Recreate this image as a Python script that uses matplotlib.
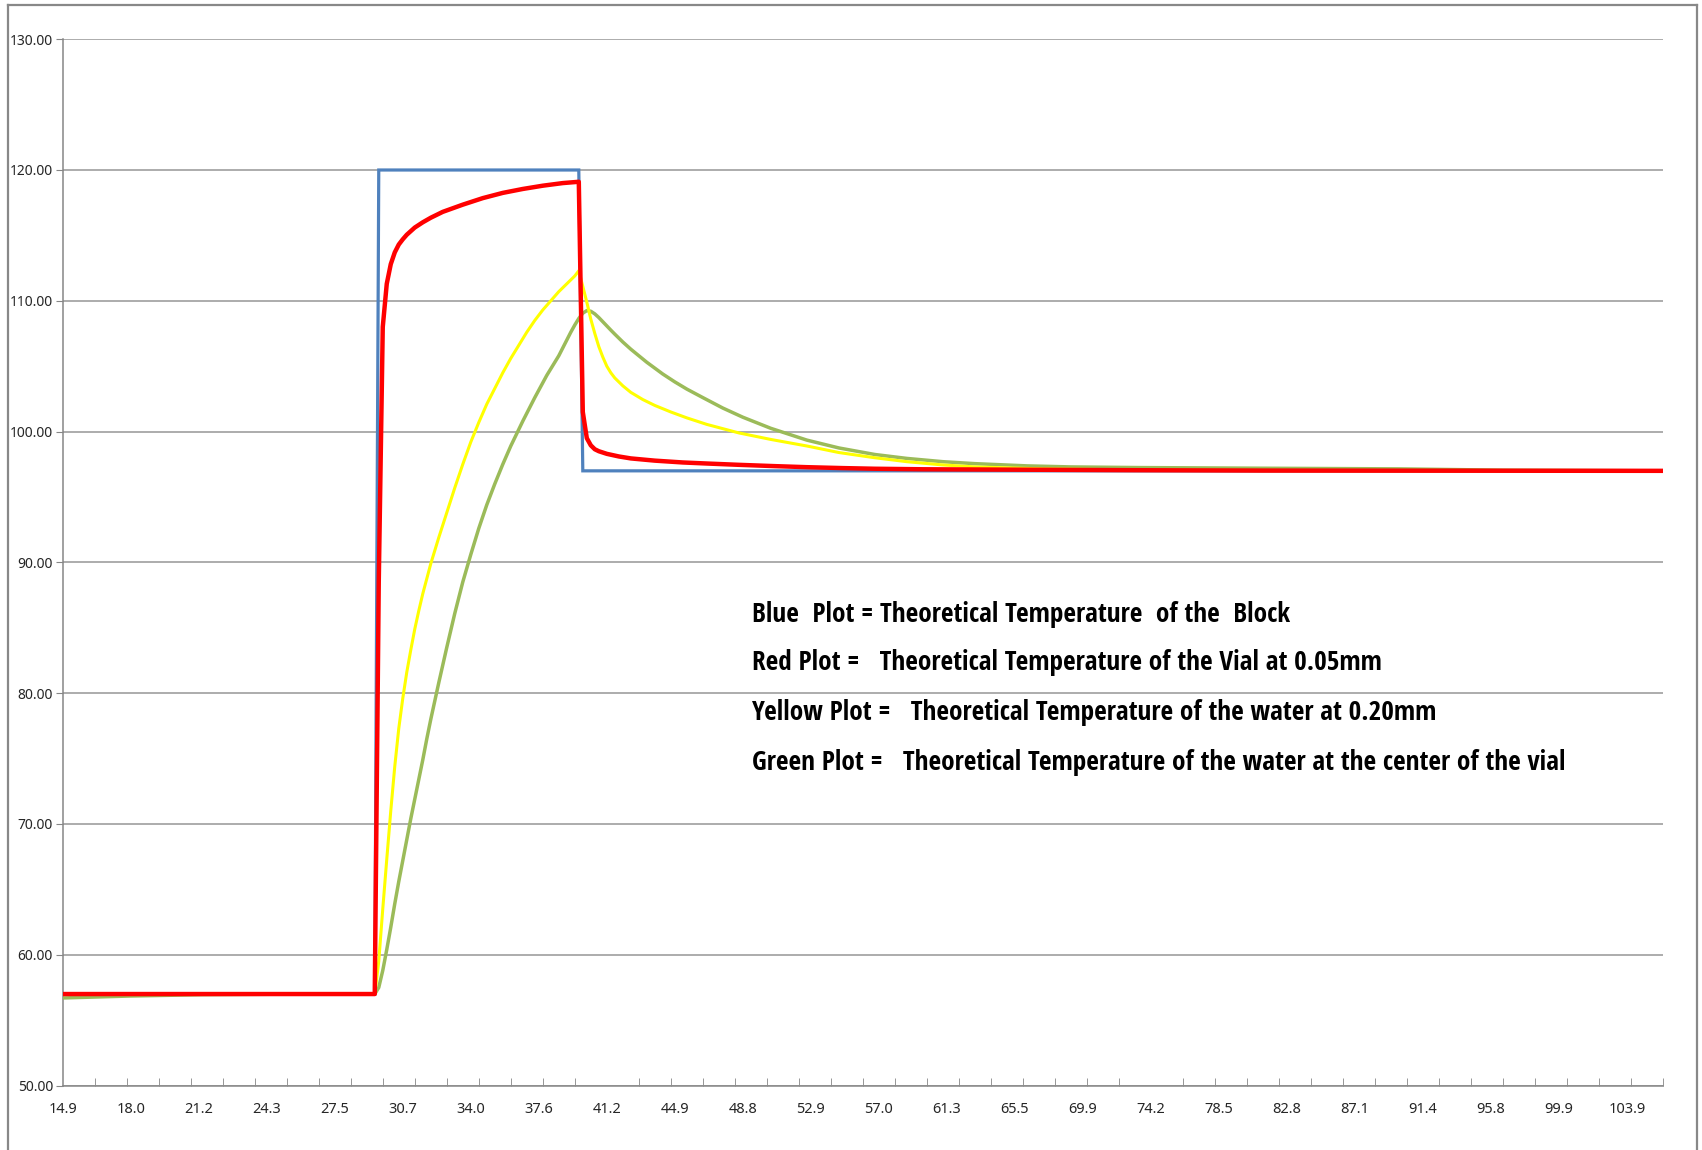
import matplotlib
matplotlib.use("Agg")
import matplotlib.pyplot as plt
from matplotlib.lines import Line2D
from matplotlib.ticker import FixedLocator, FuncFormatter

# time labels shown along the category axis (one every 17 samples)
x_labels = ["14.9", "18.0", "21.2", "24.3", "27.5", "30.7", "34.0", "37.6",
            "41.2", "44.9", "48.8", "52.9", "57.0", "61.3", "65.5", "69.9",
            "74.2", "78.5", "82.8", "87.1", "91.4", "95.8", "99.9", "103.9"]
n_samples = 401
label_every = 17
tick_every = 8

# block temperature (step profile)
block_idx = [0, 78, 79, 129, 130, 400]
block_temp = [57.0, 57.0, 120.0, 120.0, 97.0, 97.0]

# vial wall at 0.05mm
vial_idx = [0, 78, 79, 80, 81, 82, 83, 84, 85, 86, 88, 90, 92, 95, 100, 105,
            110, 115, 120, 125, 129, 130, 131, 132, 133, 134, 136, 139, 142,
            148, 155, 161, 169, 178, 186, 195, 203, 215, 230, 245, 267, 300, 400]
vial_temp = [57.0, 57.0, 88.5, 108.0, 111.3, 112.8, 113.7, 114.3, 114.7,
             115.05, 115.6, 116.0, 116.35, 116.8, 117.35, 117.85, 118.25,
             118.55, 118.8, 119.0, 119.1, 101.5, 99.5, 98.95, 98.65, 98.5,
             98.3, 98.1, 97.95, 97.78, 97.64, 97.56, 97.46, 97.36, 97.28,
             97.21, 97.16, 97.12, 97.1, 97.08, 97.05, 97.02, 97.0]

# water at 0.20mm
water_idx = [0, 78, 79, 80, 81, 82, 83, 84, 85, 86, 87, 88, 89, 90, 92, 94,
             96, 98, 100, 102, 104, 106, 108, 110, 112, 114, 116, 118, 120,
             122, 124, 126, 128, 129, 130, 131, 132, 133, 134, 135, 136, 137,
             138, 140, 142, 145, 148, 152, 156, 161, 169, 177, 186, 194, 203,
             211, 220, 228, 245, 265, 300, 400]
water_temp = [57.0, 57.0, 59.5, 63.5, 67.3, 71.0, 74.4, 77.3, 79.6, 81.6,
              83.3, 84.9, 86.3, 87.6, 89.9, 91.9, 93.8, 95.7, 97.5, 99.2,
              100.7, 102.1, 103.3, 104.5, 105.6, 106.6, 107.6, 108.5, 109.3,
              110.0, 110.7, 111.3, 111.9, 112.3, 111.1, 109.9, 108.6, 107.5,
              106.5, 105.7, 105.0, 104.5, 104.1, 103.5, 103.0, 102.45, 102.0,
              101.5, 101.05, 100.55, 99.9, 99.4, 98.9, 98.4, 98.0, 97.7,
              97.45, 97.3, 97.15, 97.08, 97.02, 97.0]

# water at the center of the vial
center_idx = [0, 17, 35, 60, 78, 79, 80, 81, 82, 83, 84, 85, 86, 87, 88, 89,
              90, 91, 92, 93, 94, 96, 98, 100, 102, 104, 106, 108, 110, 112,
              115, 118, 121, 124, 126, 127, 128, 129, 130, 131, 132, 133, 134,
              135, 136, 137, 138, 140, 142, 144, 146, 148, 150, 153, 156, 160,
              165, 170, 177, 186, 194, 203, 211, 220, 228, 241, 252, 269, 300,
              334, 360, 400]
center_temp = [56.7, 56.85, 56.95, 57.0, 57.0, 57.5, 58.8, 60.4, 62.1, 63.9,
               65.6, 67.2, 68.8, 70.4, 71.9, 73.4, 74.9, 76.5, 78.0, 79.4,
               80.8, 83.5, 86.1, 88.5, 90.6, 92.6, 94.4, 96.0, 97.5, 98.9,
               100.8, 102.6, 104.3, 105.8, 107.0, 107.6, 108.15, 108.65,
               109.05, 109.25, 109.2, 109.0, 108.72, 108.4, 108.08, 107.76,
               107.45, 106.85, 106.3, 105.8, 105.3, 104.85, 104.4, 103.8,
               103.25, 102.6, 101.8, 101.1, 100.25, 99.35, 98.75, 98.25,
               97.95, 97.7, 97.55, 97.38, 97.3, 97.25, 97.2, 97.15, 97.05, 97.0]

notes = [
    "Blue  Plot = Theoretical Temperature  of the  Block",
    "Red Plot =   Theoretical Temperature of the Vial at 0.05mm",
    "Yellow Plot =   Theoretical Temperature of the water at 0.20mm",
    "Green Plot =   Theoretical Temperature of the water at the center of the vial",
]
note_rows = [615, 662, 713, 763]

W, H = 1702, 1150
narrow_bold = ["Open Sans Condensed", "Roboto Condensed", "Liberation Sans Narrow",
               "Noto Sans", "DejaVu Sans"]
narrow_tick = ["Open Sans Condensed Light", "Noto Sans", "DejaVu Sans"]

fig = plt.figure(figsize=(W / 100, H / 100), dpi=100)
left, right, top, bottom = 62.7, 1663.0, 39.2, 1085.6
ax = fig.add_axes([left / W, 1 - bottom / H, (right - left) / W, (bottom - top) / H])

ax.plot(block_idx, block_temp, color="#4F81BD", lw=2.3, solid_joinstyle="miter", zorder=3)
ax.plot(center_idx, center_temp, color="#9BBB59", lw=2.5, zorder=4)
ax.plot(water_idx, water_temp, color="#FFFF00", lw=2.2, zorder=5)
ax.plot(vial_idx, vial_temp, color="#FF0000", lw=3.2, zorder=6)

ax.set_xlim(0, n_samples - 1)
ax.set_ylim(50, 130)

# y axis
ax.set_yticks(range(50, 131, 10))
ax.yaxis.set_major_formatter(FuncFormatter(lambda v, p: f"{v:.2f}"))
ax.yaxis.grid(True, color="#A6A6A6", lw=1.3)
ax.set_axisbelow(True)
ax.tick_params(axis="y", direction="out", length=5, color="#868686",
               labelsize=10, pad=2, labelcolor="#262626")

# x axis: labels and tick marks on different intervals
ax.xaxis.set_major_locator(FixedLocator(range(0, label_every * len(x_labels), label_every)))
ax.set_xticklabels(x_labels)
ax.xaxis.set_minor_locator(FixedLocator(range(0, n_samples, tick_every)))
ax.tick_params(axis="x", which="major", length=0, pad=12, labelsize=10.5, labelcolor="#262626")
ax.tick_params(axis="x", which="minor", direction="in", length=6, color="#868686")

for lbl in ax.get_xticklabels() + ax.get_yticklabels():
    lbl.set_family(narrow_tick)

for s in ["top", "right"]:
    ax.spines[s].set_visible(False)
for s in ["left", "bottom"]:
    ax.spines[s].set_color("#868686")
    ax.spines[s].set_linewidth(1.1)

# annotation block, sized so the longest line spans ~812 px
texts = []
for line, y in zip(notes, note_rows):
    t = fig.text(752 / W, 1 - y / H, line, fontsize=20, fontweight="bold",
                 family=narrow_bold, fontstretch="condensed",
                 va="center", ha="left", color="black")
    texts.append(t)
fig.canvas.draw()
renderer = fig.canvas.get_renderer()
widest = max(t.get_window_extent(renderer).width for t in texts)
size = min(24, 20 * 812 / widest)
for t in texts:
    t.set_fontsize(size)

# outer frame
frame_kw = dict(color="#888888", lw=1.6, transform=fig.transFigure)
fig.add_artist(Line2D([8 / W, 8 / W], [0, 1 - 5 / H], **frame_kw))
fig.add_artist(Line2D([8 / W, 1697 / W], [1 - 5 / H, 1 - 5 / H], **frame_kw))
fig.add_artist(Line2D([1697 / W, 1697 / W], [0, 1 - 5 / H], **frame_kw))

fig.savefig("out.png", dpi=100)
